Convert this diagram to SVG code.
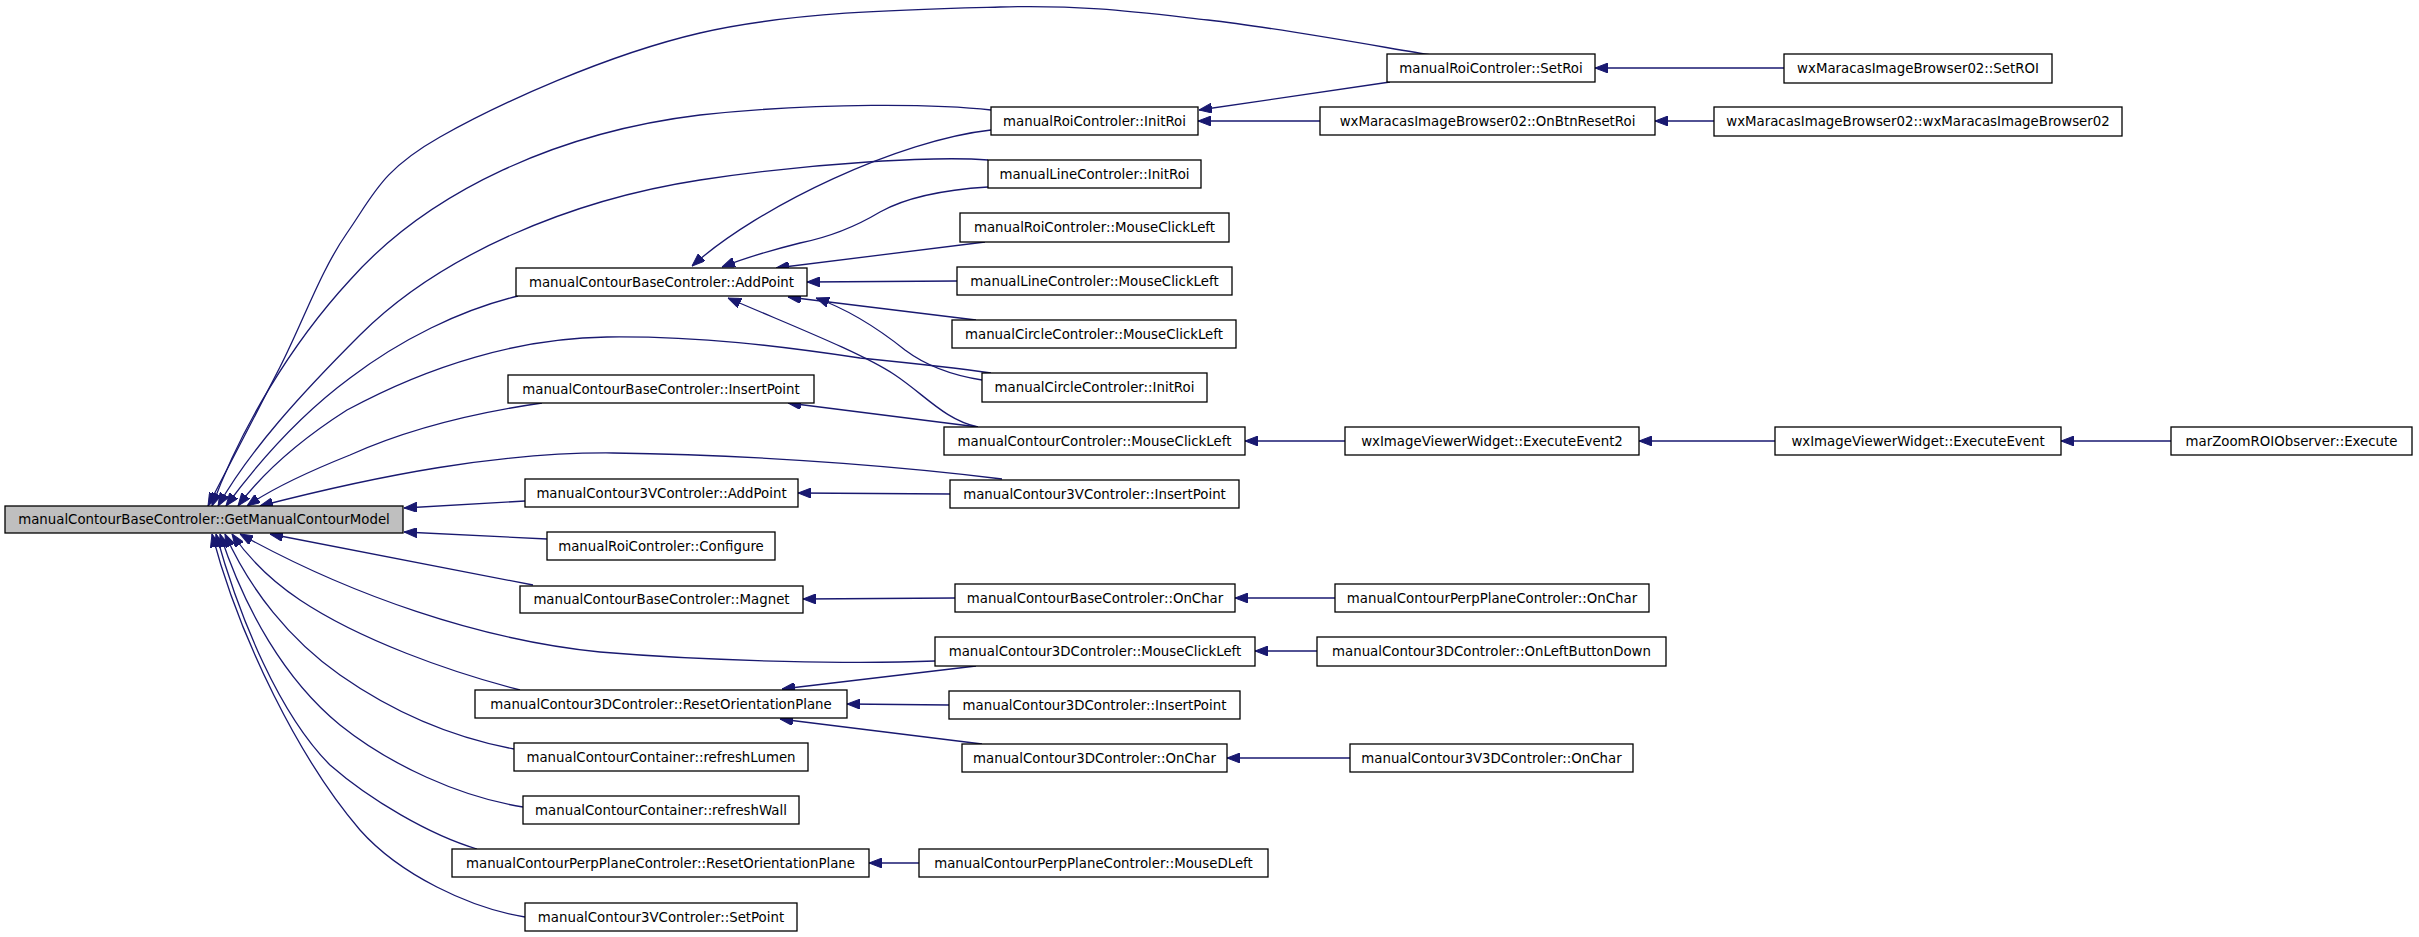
<svg xmlns="http://www.w3.org/2000/svg" width="2419" height="937" viewBox="0 0 2419 937">
<style>
.n rect{fill:#ffffff;stroke:#000000;stroke-width:1.3}
.n.main rect{fill:#bfbfbf}
.n text{font-family:"DejaVu Sans","Liberation Sans",sans-serif;font-size:13.33px;fill:#000000;text-anchor:middle}
#edges path{fill:none;stroke:#191970;stroke-width:1.3;marker-end:url(#ah)}
</style>
<defs>
<marker id="ah" viewBox="0 0 13 10" markerWidth="13" markerHeight="10" refX="13" refY="5" orient="auto" markerUnits="userSpaceOnUse"><path d="M0,0 L13,5 L0,10 z" fill="#191970" stroke="#191970" stroke-width="1"/></marker>
</defs>
<rect width="2419" height="937" fill="#ffffff"/>
<g id="edges">
<!-- into main -->
<path d="M1431,55 C1393.8,49.2 1279.8,28 1208,20 C1136.2,12 1084.7,4.8 1000,7 C915.3,9.2 793.3,11.3 700,33 C606.7,54.7 498.8,103.7 440,137 C381.2,170.3 373.7,194.7 347,233 C320.3,271.3 303.2,321.5 280,367 C256.8,412.5 220,482.8 208,506"/>
<path d="M991,110 C940,104 820,102 700,115 C560,132 430,190 350,280 C290,345 240,430 212,506"/>
<path d="M988,160 C940,156 820,162 700,180 C570,200 440,255 360,335 C300,395 250,450 218,506"/>
<path d="M518,296 C460,310 400,340 350,378 C300,415 260,460 226,506"/>
<path d="M991,373 C950,367 900,362 860,358 C780,346 700,336 607,337 C520,338 430,365 347,410 C300,440 265,470 238,506"/>
<path d="M542,403 C480,412 410,428 350,455 C300,475 270,490 247,506"/>
<path d="M1002,479 C930,470 780,455 613,453 C500,452 380,475 260,506"/>
<path d="M525,501 L404,508"/>
<path d="M547,539 L404,532"/>
<path d="M533,585 L270,534"/>
<path d="M935,661 C860,664 720,662 600,652 C480,640 350,595 240,534"/>
<path d="M520,690 C450,672 360,640 300,600 C270,580 250,560 232,534"/>
<path d="M514,749 C450,737 390,710 340,675 C290,640 250,590 225,534"/>
<path d="M523,807 C460,797 390,765 340,725 C285,680 245,610 220,534"/>
<path d="M477,849 C430,835 370,800 330,765 C280,715 240,620 216,534"/>
<path d="M525,917 C470,908 400,875 360,830 C300,760 240,640 212,534"/>
<!-- into AddPoint -->
<path d="M991,130 C900,140 760,205 692,266"/>
<path d="M988,187 C940,190 905,198 880,212 C860,224 835,236 800,243 C780,248 750,256 722,267"/>
<path d="M985,242 L776,268"/>
<path d="M957,281 L807,282"/>
<path d="M976,320 L788,297"/>
<path d="M982,380 C950,375 925,365 905,350 C880,330 850,310 816,298"/>
<path d="M978,427 C945,420 925,395 895,375 C860,352 790,325 728,298"/>
<!-- into InsertPoint -->
<path d="M978,427 L788,403"/>
<!-- others -->
<path d="M950,494 L798,493"/>
<path d="M955,598 L803,599"/>
<path d="M976,666 L782,689"/>
<path d="M949,705 L847,704"/>
<path d="M982,744 L780,719"/>
<path d="M919,863 L869,863"/>
<path d="M1390,82 L1199,110"/>
<path d="M1320,121 L1198,121"/>
<path d="M1784,68 L1595,68"/>
<path d="M1714,121 L1655,121"/>
<path d="M1345,441 L1245,441"/>
<path d="M1775,441 L1639,441"/>
<path d="M2171,441 L2061,441"/>
<path d="M1335,598 L1235,598"/>
<path d="M1317,651 L1255,651"/>
<path d="M1350,758 L1227,758"/>
</g>
<g id="n0" class="n main"><rect x="5" y="506" width="398" height="27"/><text x="204" y="524.3">manualContourBaseControler::GetManualContourModel</text></g>
<g id="n1" class="n"><rect x="516" y="268" width="291" height="28"/><text x="661.5" y="286.8">manualContourBaseControler::AddPoint</text></g>
<g id="n2" class="n"><rect x="508" y="375" width="306" height="28"/><text x="661" y="393.8">manualContourBaseControler::InsertPoint</text></g>
<g id="n3" class="n"><rect x="525" y="479" width="273" height="28"/><text x="661.5" y="497.8">manualContour3VControler::AddPoint</text></g>
<g id="n4" class="n"><rect x="547" y="532" width="228" height="28"/><text x="661" y="550.8">manualRoiControler::Configure</text></g>
<g id="n5" class="n"><rect x="520" y="586" width="283" height="27"/><text x="661.5" y="604.3">manualContourBaseControler::Magnet</text></g>
<g id="n6" class="n"><rect x="475" y="690" width="372" height="28"/><text x="661" y="708.8">manualContour3DControler::ResetOrientationPlane</text></g>
<g id="n7" class="n"><rect x="514" y="743" width="294" height="28"/><text x="661" y="761.8">manualContourContainer::refreshLumen</text></g>
<g id="n8" class="n"><rect x="523" y="796" width="276" height="28"/><text x="661" y="814.8">manualContourContainer::refreshWall</text></g>
<g id="n9" class="n"><rect x="452" y="849" width="417" height="28"/><text x="660.5" y="867.8">manualContourPerpPlaneControler::ResetOrientationPlane</text></g>
<g id="n10" class="n"><rect x="525" y="903" width="272" height="28"/><text x="661" y="921.8">manualContour3VControler::SetPoint</text></g>
<g id="n11" class="n"><rect x="1387" y="54" width="208" height="28"/><text x="1491" y="72.8">manualRoiControler::SetRoi</text></g>
<g id="n12" class="n"><rect x="991" y="107" width="207" height="28"/><text x="1094.5" y="125.8">manualRoiControler::InitRoi</text></g>
<g id="n13" class="n"><rect x="1320" y="107" width="335" height="28"/><text x="1487.5" y="125.8">wxMaracasImageBrowser02::OnBtnResetRoi</text></g>
<g id="n14" class="n"><rect x="988" y="160" width="213" height="28"/><text x="1094.5" y="178.8">manualLineControler::InitRoi</text></g>
<g id="n15" class="n"><rect x="960" y="213" width="269" height="29"/><text x="1094.5" y="232.3">manualRoiControler::MouseClickLeft</text></g>
<g id="n16" class="n"><rect x="957" y="267" width="275" height="28"/><text x="1094.5" y="285.8">manualLineControler::MouseClickLeft</text></g>
<g id="n17" class="n"><rect x="952" y="320" width="284" height="28"/><text x="1094" y="338.8">manualCircleControler::MouseClickLeft</text></g>
<g id="n18" class="n"><rect x="982" y="373" width="225" height="29"/><text x="1094.5" y="392.3">manualCircleControler::InitRoi</text></g>
<g id="n19" class="n"><rect x="944" y="427" width="301" height="28"/><text x="1094.5" y="445.8">manualContourControler::MouseClickLeft</text></g>
<g id="n20" class="n"><rect x="1345" y="427" width="294" height="28"/><text x="1492" y="445.8">wxImageViewerWidget::ExecuteEvent2</text></g>
<g id="n21" class="n"><rect x="950" y="480" width="289" height="28"/><text x="1094.5" y="498.8">manualContour3VControler::InsertPoint</text></g>
<g id="n22" class="n"><rect x="955" y="584" width="280" height="28"/><text x="1095" y="602.8">manualContourBaseControler::OnChar</text></g>
<g id="n23" class="n"><rect x="1335" y="584" width="314" height="28"/><text x="1492" y="602.8">manualContourPerpPlaneControler::OnChar</text></g>
<g id="n24" class="n"><rect x="935" y="637" width="320" height="29"/><text x="1095" y="656.3">manualContour3DControler::MouseClickLeft</text></g>
<g id="n25" class="n"><rect x="1317" y="637" width="349" height="29"/><text x="1491.5" y="656.3">manualContour3DControler::OnLeftButtonDown</text></g>
<g id="n26" class="n"><rect x="949" y="691" width="291" height="28"/><text x="1094.5" y="709.8">manualContour3DControler::InsertPoint</text></g>
<g id="n27" class="n"><rect x="962" y="744" width="265" height="28"/><text x="1094.5" y="762.8">manualContour3DControler::OnChar</text></g>
<g id="n28" class="n"><rect x="1350" y="744" width="283" height="28"/><text x="1491.5" y="762.8">manualContour3V3DControler::OnChar</text></g>
<g id="n29" class="n"><rect x="919" y="849" width="349" height="28"/><text x="1093.5" y="867.8">manualContourPerpPlaneControler::MouseDLeft</text></g>
<g id="n30" class="n"><rect x="1784" y="54" width="268" height="29"/><text x="1918" y="73.3">wxMaracasImageBrowser02::SetROI</text></g>
<g id="n31" class="n"><rect x="1714" y="107" width="408" height="29"/><text x="1918" y="126.3">wxMaracasImageBrowser02::wxMaracasImageBrowser02</text></g>
<g id="n32" class="n"><rect x="1775" y="427" width="286" height="28"/><text x="1918" y="445.8">wxImageViewerWidget::ExecuteEvent</text></g>
<g id="n33" class="n"><rect x="2171" y="427" width="241" height="28"/><text x="2291.5" y="445.8">marZoomROIObserver::Execute</text></g>
</svg>
